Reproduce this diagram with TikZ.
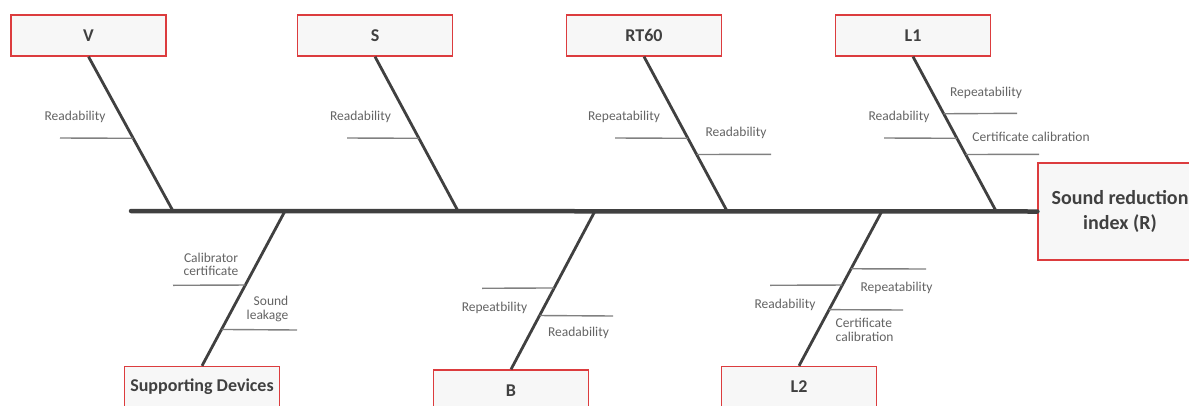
\documentclass[tikz,border=0pt]{standalone}
\usepackage{fontspec}
\setmainfont{Carlito}
\usetikzlibrary{calc}
\definecolor{boxred}{RGB}{220,60,62}
\definecolor{boxfill}{RGB}{247,247,247}
\definecolor{bone}{RGB}{64,64,64}
\definecolor{subline}{RGB}{128,128,128}
\definecolor{labtext}{RGB}{100,100,100}
\definecolor{boxtext}{RGB}{64,64,64}
\tikzset{
  causebox/.style={draw=boxred, line width=1.3pt, fill=boxfill, minimum width=155pt, minimum height=41pt, inner sep=0pt, text=boxtext, font=\fontsize{18}{21}\selectfont\bfseries},
  effectbox/.style={draw=boxred, line width=1.3pt, fill=boxfill, minimum width=164pt, minimum height=97pt, inner sep=0pt, text=boxtext, align=center, font=\fontsize{20}{25}\selectfont\bfseries},
  spine/.style={draw=bone, line width=4.5pt, line cap=round},
  bonel/.style={draw=bone, line width=2.8pt},
  sub/.style={draw=subline, line width=1.4pt},
  lab/.style={text=labtext, inner sep=0pt, font=\fontsize{13.5}{14}\selectfont},
}
\begin{document}
\begin{tikzpicture}[x=1pt,y=-1pt]
\clip (0,0) rectangle (1189,405);
\fill[white] (0,0) rectangle (1189,405);
% effect
\node[effectbox] (R) at (1120,211.5) {Sound reduction\\index (R)};
\coordinate (tail) at (131,211);
% top cause boxes
\node[causebox] (V) at (88.5,35.5) {V};
\node[causebox] (S) at (375,35.5) {S};
\node[causebox] (RT) at (644,35.5) {RT60};
\node[causebox] (L1) at (913,35.5) {L1};
% bottom cause boxes
\node[causebox] (SD) at (202,387) {Supporting Devices};
\node[causebox] (B) at (511,390.5) {B};
\node[causebox] (L2) at (799,387) {L2};
% spine points
\coordinate (sV) at (173,211);
\coordinate (sS) at (458,211);
\coordinate (sRT) at (727,211);
\coordinate (sL1) at (996,211);
\coordinate (sSD) at (285,211);
\coordinate (sB) at (595,211);
\coordinate (sL2) at (882,211);
% bones
\draw[bonel] (V.south) -- (sV);
\draw[bonel] (S.south) -- (sS);
\draw[bonel] (RT.south) -- (sRT);
\draw[bonel] (L1.south) -- (sL1);
\draw[bonel] (SD.north) -- (sSD);
\draw[bonel] (B.north) -- (sB);
\draw[bonel] (L2.north) -- (sL2);
\draw[spine] (tail) -- (R.west);
% sub-causes: V
\coordinate (pV1) at ($(V.south)!0.529!(sV)$);
\coordinate (fV1) at (60,138);
\draw[sub] (pV1) -- (fV1);
\node[lab] (tV1) at (75,117) {Readability};
% S
\coordinate (pS1) at ($(S.south)!0.529!(sS)$);
\coordinate (fS1) at (347,138);
\draw[sub] (pS1) -- (fS1);
\node[lab] (tS1) at (360.5,117) {Readability};
% RT60
\coordinate (pRT1) at ($(RT.south)!0.529!(sRT)$);
\coordinate (fRT1) at (615,138);
\draw[sub] (pRT1) -- (fRT1);
\node[lab] (tRT1) at (624,117) {Repeatability};
\coordinate (pRT2) at ($(RT.south)!0.634!(sRT)$);
\coordinate (fRT2) at (771,154.3);
\draw[sub] (pRT2) -- (fRT2);
\node[lab] (tRT2) at (736,133) {Readability};
% L1
\coordinate (pL11) at ($(L1.south)!0.37!(sL1)$);
\coordinate (fL11) at (1017,113.3);
\draw[sub] (pL11) -- (fL11);
\node[lab] (tL11) at (986,92.5) {Repeatability};
\coordinate (pL12) at ($(L1.south)!0.529!(sL1)$);
\coordinate (fL12) at (884,138);
\draw[sub] (pL12) -- (fL12);
\node[lab] (tL12) at (899,117) {Readability};
\coordinate (pL13) at ($(L1.south)!0.634!(sL1)$);
\coordinate (fL13) at (1039,154.3);
\draw[sub] (pL13) -- (fL13);
\node[lab] (tL13) at (1031,137) {Certificate calibration};
% Supporting devices
\coordinate (pSD1) at ($(sSD)!0.478!(SD.north)$);
\coordinate (fSD1) at (173,285.3);
\draw[sub] (pSD1) -- (fSD1);
\node[lab, align=center, font=\fontsize{13.5}{13.5}\selectfont] (tSD1) at (211,264.5) {Calibrator\\certificate};
\coordinate (pSD2) at ($(sSD)!0.765!(SD.north)$);
\coordinate (fSD2) at (297,330);
\draw[sub] (pSD2) -- (fSD2);
\node[lab, align=right, anchor=east, font=\fontsize{13.5}{13.5}\selectfont] (tSD2) at (288.5,309) {Sound\\leakage};
% B
\coordinate (pB1) at ($(sB)!0.486!(B.north)$);
\coordinate (fB1) at (482,288.3);
\draw[sub] (pB1) -- (fB1);
\node[lab] (tB1) at (494.5,308.3) {Repeatbility};
\coordinate (pB2) at ($(sB)!0.66!(B.north)$);
\coordinate (fB2) at (613,316);
\draw[sub] (pB2) -- (fB2);
\node[lab] (tB2) at (578.5,332.7) {Readability};
% L2
\coordinate (pL21) at ($(sL2)!0.373!(L2.north)$);
\coordinate (fL21) at (926,269);
\draw[sub] (pL21) -- (fL21);
\node[lab] (tL21) at (896.5,288.3) {Repeatability};
\coordinate (pL22) at ($(sL2)!0.478!(L2.north)$);
\coordinate (fL22) at (770,285.3);
\draw[sub] (pL22) -- (fL22);
\node[lab] (tL22) at (785,305.3) {Readability};
\coordinate (pL23) at ($(sL2)!0.637!(L2.north)$);
\coordinate (fL23) at (903,310);
\draw[sub] (pL23) -- (fL23);
\node[lab, align=left, anchor=west, font=\fontsize{13.5}{13.5}\selectfont] (tL23) at (835.5,330) {Certificate\\calibration};
\end{tikzpicture}
\end{document}
